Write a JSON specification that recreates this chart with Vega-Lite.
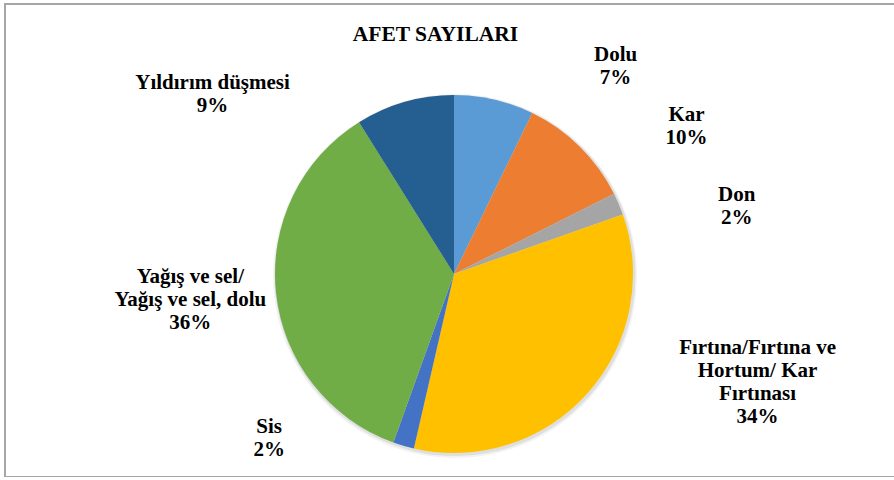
{
  "$schema": "https://vega.github.io/schema/vega-lite/v6.json",
  "width": 895,
  "height": 473,
  "autosize": {"type": "none"},
  "padding": {"left": 5, "top": 4, "right": 0, "bottom": 0},
  "background": "white",
  "view": {"stroke": "#A6A6A6", "strokeWidth": 2, "fill": "white"},
  "config": {"view": {"stroke": "#A6A6A6", "strokeWidth": 2}, "font": "Liberation Serif"},
  "title": {"text": "AFET SAYILARI", "font": "Liberation Serif", "fontSize": 21.5, "fontWeight": "bold", "color": "#000000", "anchor": "middle", "frame": "group", "offset": -41, "dx": -17},
  "data": {
    "values": [
      {"i": 0, "cat": "Dolu", "v": 7.2, "label": ["Dolu", "7%"]},
      {"i": 1, "cat": "Kar", "v": 10.4, "label": ["Kar", "10%"]},
      {"i": 2, "cat": "Don", "v": 2.0, "label": ["Don", "2%"]},
      {"i": 3, "cat": "Fırtına/Fırtına ve Hortum/ Kar Fırtınası", "v": 34.0, "label": ["Fırtına/Fırtına ve", "Hortum/ Kar", "Fırtınası", "34%"]},
      {"i": 4, "cat": "Sis", "v": 1.9, "label": ["Sis", "2%"]},
      {"i": 5, "cat": "Yağış ve sel/ Yağış ve sel, dolu", "v": 35.6, "label": ["Yağış ve sel/", "Yağış ve sel, dolu", "36%"]},
      {"i": 6, "cat": "Yıldırım düşmesi", "v": 8.9, "label": ["Yıldırım düşmesi", "9%"]}
    ]
  },
  "layer": [
    {
      "mark": {"type": "arc", "x": 450, "y": 272, "outerRadius": 182, "color": "#000000", "opacity": 0.05},
      "encoding": {
        "theta": {"field": "v", "type": "quantitative", "stack": true},
        "order": {"field": "i", "type": "quantitative"}
      }
    },
    {
      "mark": {"type": "arc", "x": 450, "y": 271.5, "outerRadius": 180.5, "color": "#000000", "opacity": 0.08},
      "encoding": {
        "theta": {"field": "v", "type": "quantitative", "stack": true},
        "order": {"field": "i", "type": "quantitative"}
      }
    },
    {
      "mark": {"type": "arc", "x": 449, "y": 270, "outerRadius": 179},
      "encoding": {
        "theta": {"field": "v", "type": "quantitative", "stack": true},
        "order": {"field": "i", "type": "quantitative"},
        "color": {
          "field": "cat", "type": "nominal", "legend": null,
          "scale": {
            "domain": ["Dolu", "Kar", "Don", "Fırtına/Fırtına ve Hortum/ Kar Fırtınası", "Sis", "Yağış ve sel/ Yağış ve sel, dolu", "Yıldırım düşmesi"],
            "range": ["#5B9BD5", "#ED7D31", "#A5A5A5", "#FFC000", "#4472C4", "#70AD47", "#255E91"]
          }
        }
      }
    },
    {
      "mark": {
        "type": "text", "x": 449, "y": 270, "radius": 230,
        "font": "Liberation Serif", "fontSize": 21, "fontWeight": "bold", "color": "#000000",
        "lineHeight": 23, "align": "center", "baseline": "middle",
        "dx": {"expr": "[110, 71, 71, 132, -120, -35, -178][datum.i]"},
        "dy": {"expr": "[5, 5, 11, -79, -68, -22, 30][datum.i]"}
      },
      "encoding": {
        "theta": {"field": "v", "type": "quantitative", "stack": true},
        "order": {"field": "i", "type": "quantitative"},
        "text": {"field": "label"}
      }
    }
  ]
}
